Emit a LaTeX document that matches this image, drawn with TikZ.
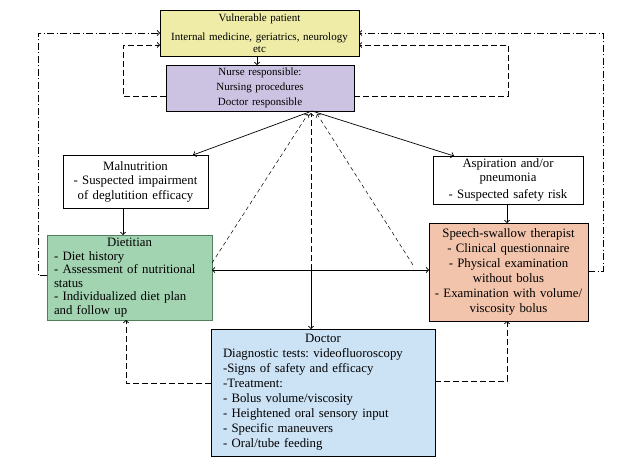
\documentclass[tikz,border=0pt]{standalone}
\usepackage{fontspec}
\setmainfont{Liberation Serif}
\usetikzlibrary{arrows.meta}
\definecolor{cyellow}{RGB}{238,236,166}
\definecolor{cpurple}{RGB}{204,195,226}
\definecolor{cgreen}{RGB}{163,212,178}
\definecolor{cgreenb}{RGB}{80,125,90}
\definecolor{cpeach}{RGB}{243,196,172}
\definecolor{cblue}{RGB}{204,226,245}
\frenchspacing
\begin{document}
\begin{tikzpicture}[x=1pt,y=-1pt,
  box/.style={draw=black,line width=0.8pt,inner sep=0pt,outer sep=0pt,anchor=center},
  small/.style={font=\fontsize{11}{12}\selectfont},
  big/.style={font=\fontsize{12.8}{14.5}\selectfont},
  tip/.style={-{Straight Barb[length=2.5pt,width=5.5pt]}},
  conn/.style={line width=0.7pt},
  dsh/.style={line width=0.7pt,dash pattern=on 6pt off 3pt},
  ldsh/.style={line width=0.5pt,dash pattern=on 4pt off 3pt},
  dd/.style={line width=0.7pt,dash pattern=on 7pt off 2.5pt on 1pt off 2.5pt}]
\useasboundingbox (0,0) rectangle (631,470);

\node[box,small,fill=cyellow,minimum width=199pt,minimum height=46pt,text width=195pt,align=center] (pat) at (259.5,33)
  {Vulnerable patient\\[7pt]Internal medicine, geriatrics, neurology\\etc};
\node[box,small,fill=cpurple,minimum width=188pt,minimum height=46pt,text width=184pt,align=center,font=\fontsize{11}{15}\selectfont] (nurse) at (260,88)
  {Nurse responsible:\\Nursing procedures\\Doctor responsible};
\node[box,big,fill=white,minimum width=145pt,minimum height=53pt,text width=141pt,align=center] (mal) at (135.5,181.5)
  {Malnutrition\\- Suspected impairment\\of deglutition efficacy};
\node[box,big,fill=cgreen,draw=cgreenb,minimum width=165pt,minimum height=85pt,text width=151pt,align=left,font=\fontsize{12.8}{13.5}\selectfont] (diet) at (129.5,277.5)
  {\makebox[\linewidth][c]{Dietitian}\\- Diet history\\- Assessment of nutritional\\status\\- Individualized diet plan\\and follow up};
\node[box,big,fill=white,minimum width=150pt,minimum height=48pt,text width=146pt,align=center,font=\fontsize{12.8}{14}\selectfont] (asp) at (508,180)
  {Aspiration and/or\\pneumonia\\[3pt]- Suspected safety risk};
\node[box,big,fill=cpeach,minimum width=159pt,minimum height=98pt,text width=155pt,align=center,font=\fontsize{12.8}{15}\selectfont] (sp) at (508.5,272)
  {Speech-swallow therapist\\- Clinical questionnaire\\- Physical examination\\without bolus\\- Examination with volume/\\viscosity bolus};
\node[box,big,fill=cblue,minimum width=224pt,minimum height=127pt,text width=200pt,align=left,font=\fontsize{12.8}{15}\selectfont] (doc) at (323,392.5)
  {\makebox[\linewidth][c]{Doctor}\\Diagnostic tests: videofluoroscopy\\-Signs of safety and efficacy\\-Treatment:\\- Bolus volume/viscosity\\- Heightened oral sensory input\\- Specific maneuvers\\- Oral/tube feeding};

\coordinate (apex) at (312,111);
\coordinate (mid) at (311,270);

% top
\draw[conn,tip] (pat.south -| 257,0) -- (nurse.north -| 257,0);
% left loops
\draw[dd,tip] (diet.west |- 0,275) -- (38,275) -- (38,33) -- (pat.west |- 0,33);
\draw[dsh,tip] (nurse.west |- 0,96) -- (123,96) -- (123,45) -- (pat.west |- 0,45);
% right loops
\draw[dd,tip] (sp.east |- 0,271) -- (603,271) -- (603,33) -- (pat.east |- 0,33);
\draw[dsh,tip] (nurse.east |- 0,96) -- (508,96) -- (508,45) -- (pat.east |- 0,45);
% from apex
\draw[conn,tip] (apex) -- (193,155);
\draw[conn,tip] (apex) -- (454,156);
\draw[ldsh,tip] (diet.east |- 0,263) -- (308,114);
\draw[ldsh,tip] (sp.west |- 0,265) ++(-16,0) -- (317,114);
\draw[dsh,tip] (mid) -- (311,113);
% middle
\draw[conn,{Straight Barb[length=2.5pt,width=5.5pt]}-{Straight Barb[length=2.5pt,width=5.5pt]}] (diet.east |- mid) -- (sp.west |- mid);
\draw[conn,tip] (mid) -- (doc.north -| mid);
\draw[conn,tip] (mal.south -| 123,0) -- (diet.north -| 123,0);
\draw[conn,tip] (asp.south -| 507,0) -- (sp.north -| 507,0);
% bottom loops
\draw[dsh,tip] (doc.west |- 0,383) -- (126,383) -- (diet.south -| 126,0);
\draw[dsh,tip] (doc.east |- 0,381) -- (507,381) -- (sp.south -| 507,0);
\end{tikzpicture}
\end{document}
